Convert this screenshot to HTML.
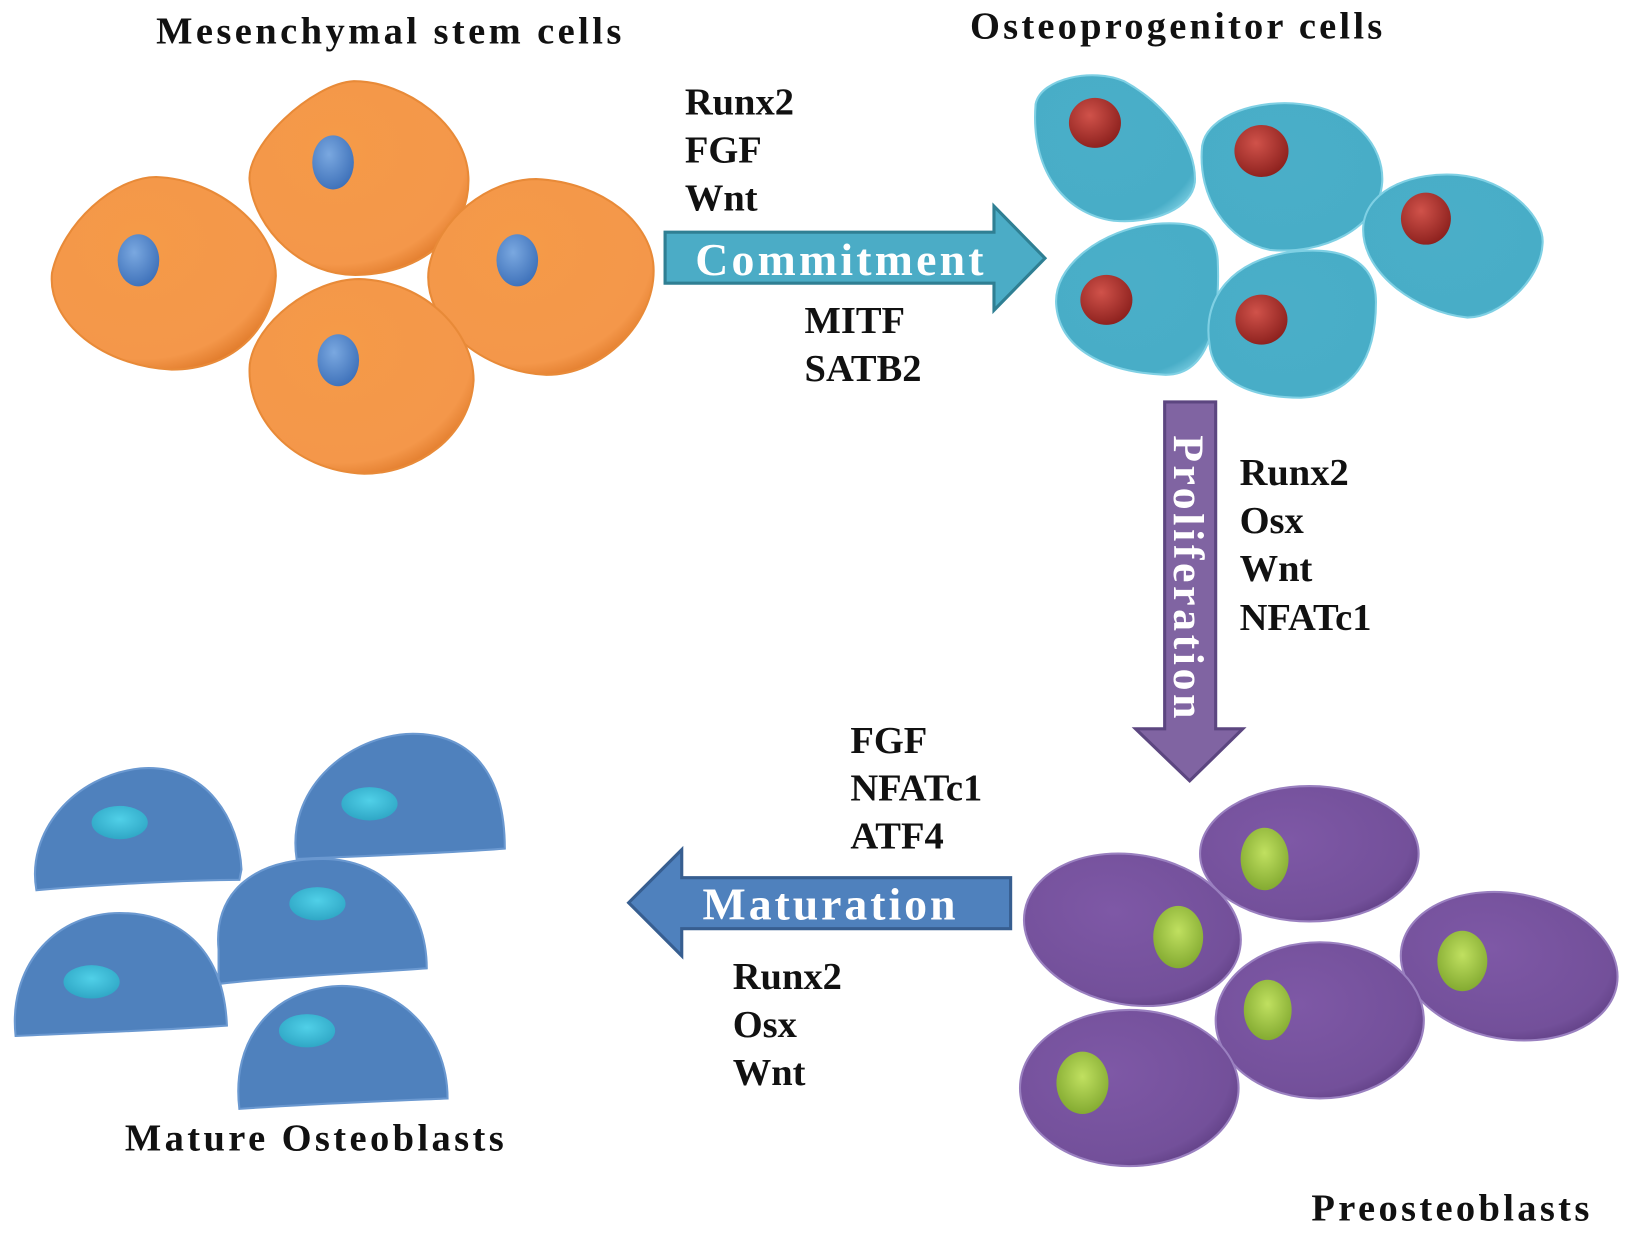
<!DOCTYPE html>
<html><head><meta charset="utf-8"><style>
html,body{margin:0;padding:0;background:#fff;overflow:hidden}
svg{display:block}
text{font-family:"Liberation Serif",serif;font-weight:bold;fill:#111}
</style></head><body>
<svg width="1632" height="1239" viewBox="0 0 1568 1190" preserveAspectRatio="none" xmlns="http://www.w3.org/2000/svg">
<defs>
<radialGradient id="og" cx="40%" cy="35%" r="70%"><stop offset="0" stop-color="#f59a48"/><stop offset="0.85" stop-color="#f4974a"/><stop offset="1" stop-color="#e07a2a"/></radialGradient>
<radialGradient id="cg" cx="45%" cy="40%" r="70%"><stop offset="0" stop-color="#4aaec8"/><stop offset="0.85" stop-color="#48adc7"/><stop offset="1" stop-color="#7fd0e4"/></radialGradient>
<radialGradient id="pg" cx="40%" cy="40%" r="70%"><stop offset="0" stop-color="#7e58a6"/><stop offset="0.8" stop-color="#73509a"/><stop offset="1" stop-color="#5a3a7e"/></radialGradient>
<radialGradient id="rn" cx="40%" cy="35%" r="70%"><stop offset="0" stop-color="#d0524a"/><stop offset="1" stop-color="#8a1f1c"/></radialGradient>
<radialGradient id="gn" cx="50%" cy="40%" r="70%"><stop offset="0" stop-color="#c0e060"/><stop offset="1" stop-color="#7aa22a"/></radialGradient>
<radialGradient id="bn" cx="40%" cy="35%" r="70%"><stop offset="0" stop-color="#7aa8e0"/><stop offset="1" stop-color="#3c6fb8"/></radialGradient>
<radialGradient id="tn" cx="50%" cy="40%" r="70%"><stop offset="0" stop-color="#50d0e8"/><stop offset="1" stop-color="#2aa0c0"/></radialGradient>
</defs>

<text x="150" y="42" font-size="37" textLength="447" lengthAdjust="spacing">Mesenchymal stem cells</text>
<text x="932" y="37" font-size="37" textLength="396" lengthAdjust="spacing">Osteoprogenitor cells</text>
<text x="120" y="1105" font-size="37" textLength="364" lengthAdjust="spacing">Mature Osteoblasts</text>
<text x="1260" y="1172" font-size="37" textLength="267" lengthAdjust="spacing">Preosteoblasts</text>

<g fill="url(#og)" stroke="#e88a38" stroke-width="2">
<path d="M240,175 C235,140 300,80 340,78 C390,78 448,120 450,170 C452,220 410,262 345,264 C290,266 245,220 240,175Z"/>
<path d="M50,262 C60,215 110,170 150,170 C210,172 265,220 265,265 C262,320 220,355 165,355 C100,352 45,310 50,262Z"/>
<path d="M412,258 C420,210 470,172 515,172 C580,175 628,215 628,260 C628,310 580,360 525,360 C465,358 405,310 412,258Z"/>
<path d="M240,350 C245,310 300,268 345,268 C410,270 455,320 455,365 C452,420 400,455 350,455 C280,452 236,400 240,350Z"/>
</g>
<g fill="url(#bn)">
<ellipse cx="320" cy="156" rx="20" ry="26"/><ellipse cx="133" cy="250" rx="20" ry="25"/>
<ellipse cx="497" cy="250" rx="20" ry="25"/><ellipse cx="325" cy="346" rx="20" ry="25"/>
</g>

<g fill="url(#cg)" stroke="#7fd0e4" stroke-width="2">
<path d="M995,100 C1000,75 1050,65 1080,78 C1120,100 1150,140 1148,175 C1145,200 1110,215 1070,212 C1020,205 990,160 995,100Z"/>
<path d="M1155,140 C1160,110 1210,95 1250,100 C1300,105 1330,140 1328,175 C1325,220 1270,245 1220,240 C1180,232 1150,190 1155,140Z"/>
<path d="M1310,215 C1315,180 1360,165 1400,168 C1450,172 1485,210 1482,235 C1480,270 1440,305 1410,305 C1360,300 1305,260 1310,215Z"/>
<path d="M1015,295 C1010,255 1060,220 1110,215 C1150,212 1168,220 1170,250 C1172,300 1165,360 1120,360 C1070,358 1020,340 1015,295Z"/>
<path d="M1162,330 C1155,285 1185,250 1240,242 C1290,236 1322,250 1322,290 C1322,345 1300,380 1250,382 C1200,382 1165,365 1162,330Z"/>
</g>
<g fill="url(#rn)">
<ellipse cx="1052" cy="118" rx="25" ry="24"/><ellipse cx="1212" cy="145" rx="26" ry="25"/>
<ellipse cx="1370" cy="210" rx="24" ry="25"/><ellipse cx="1063" cy="288" rx="25" ry="24"/>
<ellipse cx="1212" cy="307" rx="25" ry="24"/>
</g>

<g fill="url(#pg)" stroke="#9a80c0" stroke-width="2">
<ellipse cx="1088" cy="893" rx="105" ry="72" transform="rotate(10 1088 893)"/>
<ellipse cx="1258" cy="820" rx="105" ry="65"/>
<ellipse cx="1450" cy="928" rx="105" ry="70" transform="rotate(10 1450 928)"/>
<ellipse cx="1268" cy="980" rx="100" ry="75"/>
<ellipse cx="1085" cy="1045" rx="105" ry="75"/>
</g>
<g fill="url(#gn)">
<ellipse cx="1215" cy="825" rx="23" ry="30"/><ellipse cx="1132" cy="900" rx="24" ry="30"/>
<ellipse cx="1405" cy="923" rx="24" ry="29"/><ellipse cx="1218" cy="970" rx="23" ry="29"/>
<ellipse cx="1040" cy="1040" rx="25" ry="30"/>
</g>

<g fill="#4f81bd" stroke="#6a98d0" stroke-width="2">
<path d="M35,855 C25,800 70,745 135,738 C200,733 230,790 232,835 L230,845 C180,845 90,850 35,855Z"/>
<path d="M285,825 C275,760 330,710 390,705 C450,702 485,740 485,815 C420,820 350,822 285,825Z"/>
<path d="M210,912 C205,860 240,825 310,825 C370,825 410,870 410,930 C340,935 270,938 210,945Z"/>
<path d="M15,995 C8,930 50,880 110,877 C170,875 215,910 218,985 C150,990 80,992 15,995Z"/>
<path d="M230,1065 C222,1000 260,950 325,947 C380,945 430,990 430,1055 C360,1058 300,1060 230,1065Z"/>
</g>
<g fill="url(#tn)">
<ellipse cx="115" cy="790" rx="27" ry="16"/><ellipse cx="355" cy="772" rx="27" ry="16"/>
<ellipse cx="305" cy="868" rx="27" ry="16"/><ellipse cx="88" cy="943" rx="27" ry="16"/>
<ellipse cx="295" cy="990" rx="27" ry="16"/>
</g>

<path d="M639,223 L955,223 L955,198 L1004,248 L955,298 L955,272 L639,272Z" fill="#4bacc6" stroke="#2f7f93" stroke-width="3"/>
<text x="668" y="264" font-size="44" textLength="277" lengthAdjust="spacing" style="fill:#fff">Commitment</text>

<path d="M1119,386 L1168,386 L1168,700 L1194,700 L1143,750 L1091,700 L1119,700Z" fill="#8064a2" stroke="#5c4680" stroke-width="3"/>
<text transform="translate(1128,418) rotate(90)" font-size="42" textLength="272" lengthAdjust="spacing" style="fill:#fff">Proliferation</text>

<path d="M971,843 L971,892 L655,892 L655,918 L604,867 L655,816 L655,843Z" fill="#4f81bd" stroke="#375e90" stroke-width="3"/>
<text x="675" y="883" font-size="44" textLength="243" lengthAdjust="spacing" style="fill:#fff">Maturation</text>

<g font-size="37">
<text x="658" y="110">Runx2</text><text x="658" y="156">FGF</text><text x="658" y="202">Wnt</text>
<text x="773" y="320">MITF</text><text x="773" y="366">SATB2</text>
<text x="1191" y="466">Runx2</text><text x="1191" y="512">Osx</text><text x="1191" y="558">Wnt</text><text x="1191" y="605">NFATc1</text>
<text x="817" y="723">FGF</text><text x="817" y="769">NFATc1</text><text x="817" y="815">ATF4</text>
<text x="704" y="950">Runx2</text><text x="704" y="996">Osx</text><text x="704" y="1042">Wnt</text>
</g>
</svg>
</body></html>
